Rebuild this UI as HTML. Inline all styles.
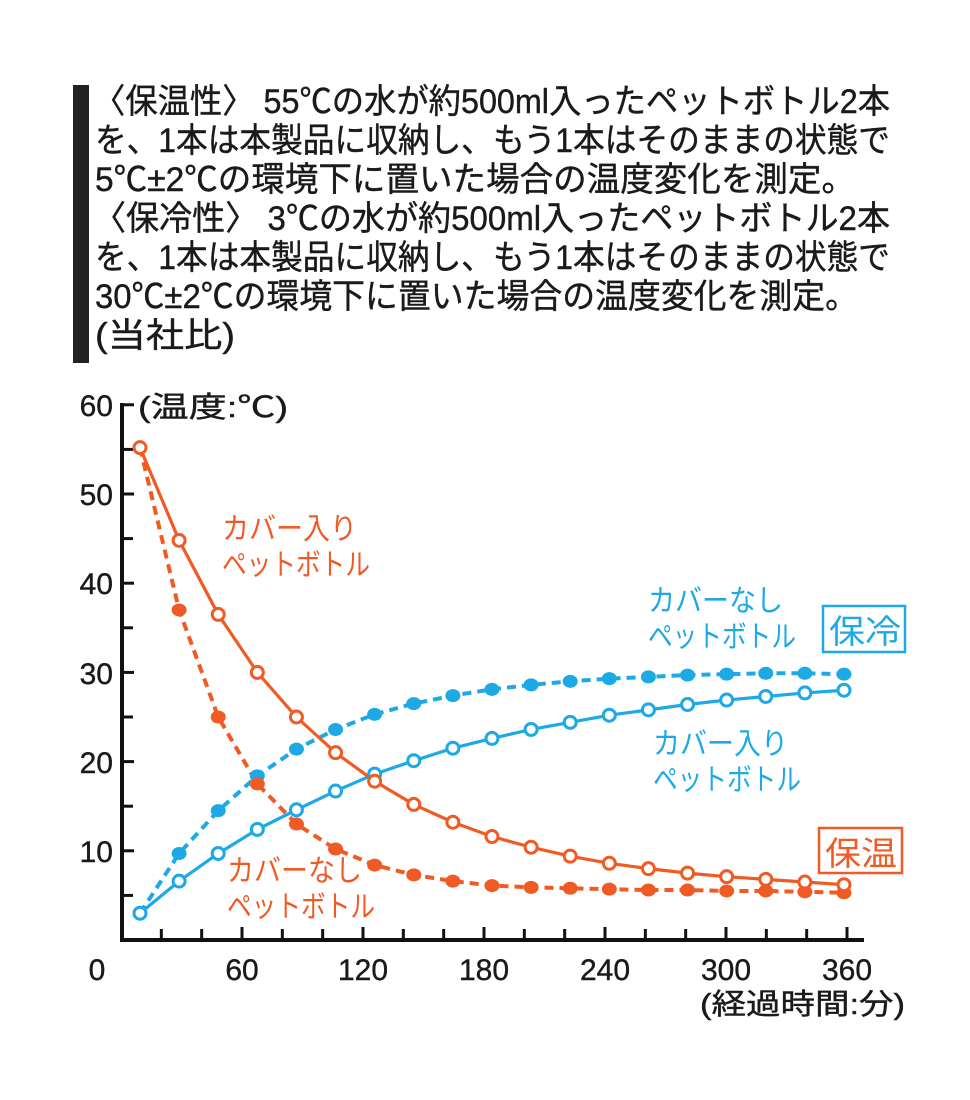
<!DOCTYPE html>
<html><head><meta charset="utf-8"><style>
html,body{margin:0;padding:0;background:#fff;}
svg{display:block;}
text{font-family:"Liberation Sans","Noto Sans CJK JP",sans-serif;}
</style></head><body>
<svg id="s" width="970" height="1100" viewBox="0 0 970 1100" xmlns="http://www.w3.org/2000/svg">
<rect x="0" y="0" width="970" height="1100" fill="#fff"/>
<rect x="73" y="85" width="16" height="278" fill="#222"/>
<g font-size="34" fill="#1a1a1a" stroke="#1a1a1a" stroke-width="0.4">
<text x="93" y="113" textLength="797" lengthAdjust="spacingAndGlyphs">〈保温性〉 55℃の水が約500ml入ったペットボトル2本</text>
<text x="95" y="152" textLength="795" lengthAdjust="spacingAndGlyphs">を、1本は本製品に収納し、もう1本はそのままの状態で</text>
<text x="95" y="191" textLength="760" lengthAdjust="spacingAndGlyphs">5℃±2℃の環境下に置いた場合の温度変化を測定。</text>
<text x="93" y="230" textLength="797" lengthAdjust="spacingAndGlyphs">〈保冷性〉  3℃の水が約500ml入ったペットボトル2本</text>
<text x="95" y="269" textLength="795" lengthAdjust="spacingAndGlyphs">を、1本は本製品に収納し、もう1本はそのままの状態で</text>
<text x="95" y="308" textLength="763" lengthAdjust="spacingAndGlyphs">30℃±2℃の環境下に置いた場合の温度変化を測定。</text>
<text x="95" y="347" textLength="140" lengthAdjust="spacingAndGlyphs">(当社比)</text>
</g>
<g stroke="#111" stroke-width="4" fill="none">
<line x1="122" y1="403" x2="122" y2="942"/>
<line x1="120" y1="940" x2="864" y2="940"/>
</g>
<g id="ticks" stroke="#111" stroke-width="3"></g>
<g font-size="30" fill="#1a1a1a" stroke="#1a1a1a" stroke-width="0.4" text-anchor="end">
<text x="113" y="416">60</text><text x="113" y="505">50</text><text x="113" y="594">40</text>
<text x="113" y="684">30</text><text x="113" y="773">20</text><text x="113" y="862">10</text>
</g>
<g font-size="30" fill="#1a1a1a" stroke="#1a1a1a" stroke-width="0.4" text-anchor="middle">
<text x="97" y="980">0</text><text x="242" y="980">60</text><text x="363" y="980">120</text>
<text x="484" y="980">180</text><text x="605" y="980">240</text><text x="726" y="980">300</text><text x="847" y="980">360</text>
</g>
<text x="138" y="417" font-size="29" fill="#1a1a1a" stroke="#1a1a1a" stroke-width="0.4" textLength="150" lengthAdjust="spacingAndGlyphs">(温度:℃)</text>
<text x="700" y="1014" font-size="29" fill="#1a1a1a" stroke="#1a1a1a" stroke-width="0.4" textLength="205" lengthAdjust="spacingAndGlyphs">(経過時間:分)</text>
<g id="series"></g>
<g font-size="30" fill="#f05a24">
<text x="222" y="539" textLength="135" lengthAdjust="spacingAndGlyphs">カバー入り</text>
<text x="222" y="575" textLength="148" lengthAdjust="spacingAndGlyphs">ペットボトル</text>
<text x="227" y="881" textLength="135" lengthAdjust="spacingAndGlyphs">カバーなし</text>
<text x="227" y="917" textLength="148" lengthAdjust="spacingAndGlyphs">ペットボトル</text>
<text x="825" y="865" font-size="33" textLength="72" lengthAdjust="spacingAndGlyphs">保温</text>
</g>
<rect x="819" y="828" width="83" height="45" fill="none" stroke="#f05a24" stroke-width="2.5"/>
<g font-size="30" fill="#1ca9e6">
<text x="648" y="611" textLength="135" lengthAdjust="spacingAndGlyphs">カバーなし</text>
<text x="648" y="647" textLength="148" lengthAdjust="spacingAndGlyphs">ペットボトル</text>
<text x="653" y="754" textLength="135" lengthAdjust="spacingAndGlyphs">カバー入り</text>
<text x="653" y="790" textLength="148" lengthAdjust="spacingAndGlyphs">ペットボトル</text>
<text x="829" y="643" font-size="33" textLength="72" lengthAdjust="spacingAndGlyphs">保冷</text>
</g>
<rect x="823" y="606" width="82" height="46" fill="none" stroke="#1ca9e6" stroke-width="2.5"/>
</svg>
<script>
var NS="http://www.w3.org/2000/svg";
function el(t,a,p){var e=document.createElementNS(NS,t);for(var k in a)e.setAttribute(k,a[k]);p.appendChild(e);return e;}
var tk=document.getElementById('ticks');
for(var v=5;v<=60;v+=5){var y=940-8.92*v;el('line',{x1:122,y1:y,x2:v%10==0?134:133,y2:y},tk);}
for(var t=20;t<=360;t+=20){var x=121+2.0167*t;el('line',{x1:x,y1:940,x2:x,y2:t%60==0?927:929},tk);}
var X=[];for(var i=0;i<19;i++)X.push(140+39.11*i);
function Y(v){return 940-8.92*v;}
var OR="#f05a24",BL="#1ca9e6";
var S=[
 {c:BL,d:true,v:[3,9.7,14.5,18.4,21.4,23.6,25.3,26.5,27.4,28.1,28.6,29,29.3,29.5,29.7,29.8,29.9,29.9,29.8]},
 {c:OR,d:true,v:[55.2,37,25,17.5,13,10.2,8.4,7.3,6.6,6.1,5.9,5.8,5.7,5.6,5.6,5.5,5.5,5.4,5.3]},
 {c:BL,d:false,v:[3,6.6,9.7,12.4,14.6,16.7,18.6,20.1,21.5,22.6,23.6,24.4,25.2,25.8,26.4,26.9,27.3,27.7,28]},
 {c:OR,d:false,v:[55.2,44.8,36.5,30,25,21,17.8,15.2,13.2,11.6,10.4,9.4,8.6,8,7.5,7.1,6.8,6.5,6.2]}
];
var g=document.getElementById('series');
S.forEach(function(s){
 var pts=s.v.map(function(v,i){return X[i]+','+Y(v);}).join(' ');
 var a={points:pts,fill:'none',stroke:s.c,'stroke-width':s.d?4:3.2};
 if(s.d)a['stroke-dasharray']='9 6';
 el('polyline',a,g);
});
S.forEach(function(s){
 s.v.forEach(function(v,i){
  if(s.d){ if(i==0)return; el('ellipse',{cx:X[i],cy:Y(v),rx:7.5,ry:6.5,fill:s.c},g);}
  else el('circle',{cx:X[i],cy:Y(v),r:6,fill:'#fff',stroke:s.c,'stroke-width':3},g);
 });
});
</script>
</body></html>
